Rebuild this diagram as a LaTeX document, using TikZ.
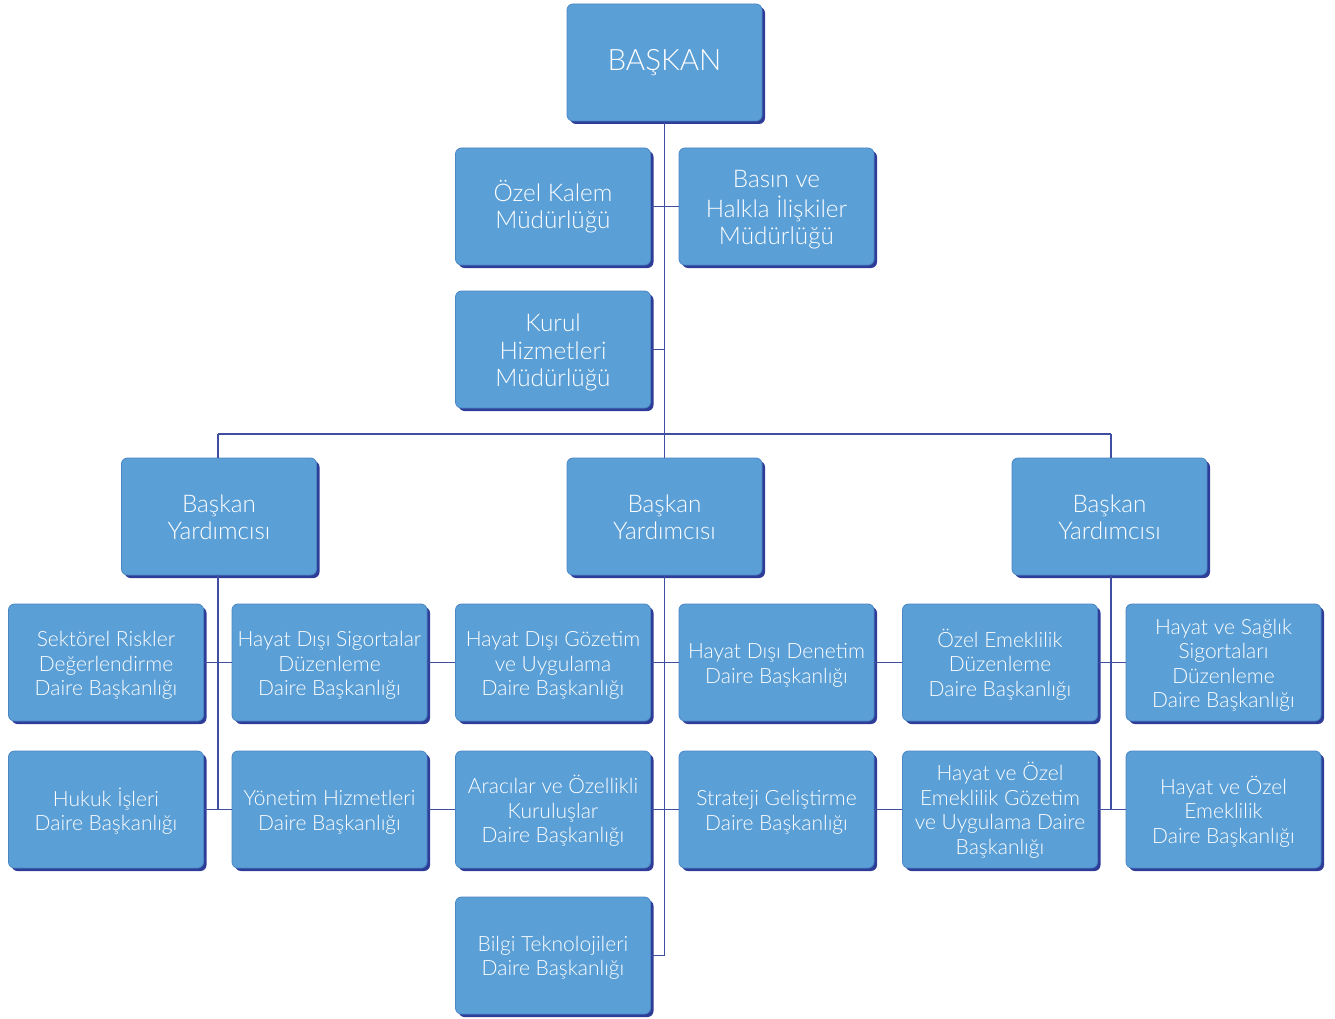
\documentclass[tikz,border=0pt]{standalone}
\usepackage{fontspec}
\setmainfont{Lato Light}
\usetikzlibrary{shadows}
\definecolor{boxblue}{HTML}{5B9FD7}
\definecolor{boxedge}{HTML}{4A86C4}
\definecolor{shadowblue}{HTML}{2E3D98}
\definecolor{linkblue}{HTML}{3F4EA0}
\newcommand\tx[1]{\begin{tabular}[b]{@{}c@{}}#1\end{tabular}}
\tikzset{
  orgbox/.style={draw=boxedge, line width=0.8pt, fill=boxblue, rounded corners=6pt,
    minimum width=195pt, minimum height=117pt, inner sep=0pt,
    text=white, font=\fontsize{21}{24.5}\selectfont,
    drop shadow={shadow xshift=3pt, shadow yshift=-3pt, fill=shadowblue, opacity=1}},
  bigbox/.style={orgbox, font=\fontsize{24.3}{27.5}\selectfont},
  tdown/.style={text depth=#1},
  link/.style={draw=linkblue, line width=1.4pt}
}
\begin{document}
\begin{tikzpicture}[x=1pt,y=-1pt]
\useasboundingbox (0,0) rectangle (1335,1019);
\coordinate (busL) at (218,434);
\coordinate (busC) at (664,434);
\coordinate (busR) at (1111,434);
% nodes
\node[bigbox, font=\fontsize{29.5}{34}\selectfont, tdown=8.2pt] (bas) at (664.5,62.5) {\tx{BAŞKAN}};
\node[bigbox, tdown=4.25pt] (ozk) at (553,206.5) {\tx{Özel Kalem\\Müdürlüğü}};
\node[bigbox, tdown=-3.75pt] (bhi) at (776.5,206.5) {\tx{Basın ve\\Halkla İlişkiler\\Müdürlüğü}};
\node[bigbox, tdown=-0.75pt] (kur) at (553,349.5) {\tx{Kurul\\Hizmetleri\\Müdürlüğü}};
\node[bigbox, tdown=-2.75pt] (byl) at (219,516.5) {\tx{Başkan\\Yardımcısı}};
\node[bigbox, tdown=-2.75pt] (byc) at (664.5,516.5) {\tx{Başkan\\Yardımcısı}};
\node[bigbox, tdown=-2.75pt] (byr) at (1109.5,516.5) {\tx{Başkan\\Yardımcısı}};
% row 1
\node[orgbox, tdown=-10.65pt] (a1) at (106,662.5) {\tx{Sektörel Riskler\\Değerlendirme\\Daire Başkanlığı}};
\node[orgbox, tdown=-10.65pt] (a2) at (329.5,662.5) {\tx{Hayat Dışı Sigortalar\\Düzenleme\\Daire Başkanlığı}};
\node[orgbox, tdown=-10.65pt] (a3) at (553,662.5) {\tx{Hayat Dışı Gözetim\\ve Uygulama\\Daire Başkanlığı}};
\node[orgbox, tdown=-14.65pt] (a4) at (776.5,662.5) {\tx{Hayat Dışı Denetim\\Daire Başkanlığı}};
\node[orgbox, tdown=-6.65pt] (a5) at (1000,662.5) {\tx{Özel Emeklilik\\Düzenleme\\Daire Başkanlığı}};
\node[orgbox, tdown=-12.65pt] (a6) at (1223.5,662.5) {\tx{Hayat ve Sağlık\\Sigortaları\\Düzenleme\\Daire Başkanlığı}};
% row 2
\node[orgbox, tdown=0.35pt] (b1) at (106,809.5) {\tx{Hukuk İşleri\\Daire Başkanlığı}};
\node[orgbox, tdown=-0.65pt] (b2) at (329.5,809.5) {\tx{Yönetim Hizmetleri\\Daire Başkanlığı}};
\node[orgbox, tdown=1.35pt] (b3) at (553,809.5) {\tx{Aracılar ve Özellikli\\Kuruluşlar\\Daire Başkanlığı}};
\node[orgbox, tdown=-0.65pt] (b4) at (776.5,809.5) {\tx{Strateji Geliştirme\\Daire Başkanlığı}};
\node[orgbox, tdown=2.35pt] (b5) at (1000,809.5) {\tx{Hayat ve Özel\\Emeklilik Gözetim\\ve Uygulama Daire\\Başkanlığı}};
\node[orgbox, tdown=-10.65pt] (b6) at (1223.5,809.5) {\tx{Hayat ve Özel\\Emeklilik\\Daire Başkanlığı}};
% row 3
\node[orgbox, tdown=1.35pt] (c3) at (553,955.5) {\tx{Bilgi Teknolojileri\\Daire Başkanlığı}};
% connectors
\begin{scope}[link]
\draw (bas.south) -- (byc.north);
\draw (ozk.east) -- (bhi.west);
\draw (kur.east) -- (kur.east -| bas.south);
\draw (busL) -- (busR);
\draw (busL) -- (byl.north -| busL);
\draw (busR) -- (byr.north -| busR);
% centre group
\coordinate (ct) at (byc.south);
\draw (byc.south) -- (ct |- c3.east) -- (c3.east);
\draw (a3.east) -- (a4.west);
\draw (b3.east) -- (b4.west);
% left group
\coordinate (lt) at (byl.south -| busL);
\draw (lt) -- (lt |- b1.east);
\draw (a1.east) -- (a2.west);
\draw (b1.east) -- (b2.west);
% right group
\coordinate (rt) at (byr.south -| busR);
\draw (rt) -- (rt |- b5.east);
\draw (a5.east) -- (a6.west);
\draw (b5.east) -- (b6.west);
% cross links
\draw (a2.east) -- (a3.west);
\draw (b2.east) -- (b3.west);
\draw (a4.east) -- (a5.west);
\draw (b4.east) -- (b5.west);
\end{scope}
\end{tikzpicture}
\end{document}
